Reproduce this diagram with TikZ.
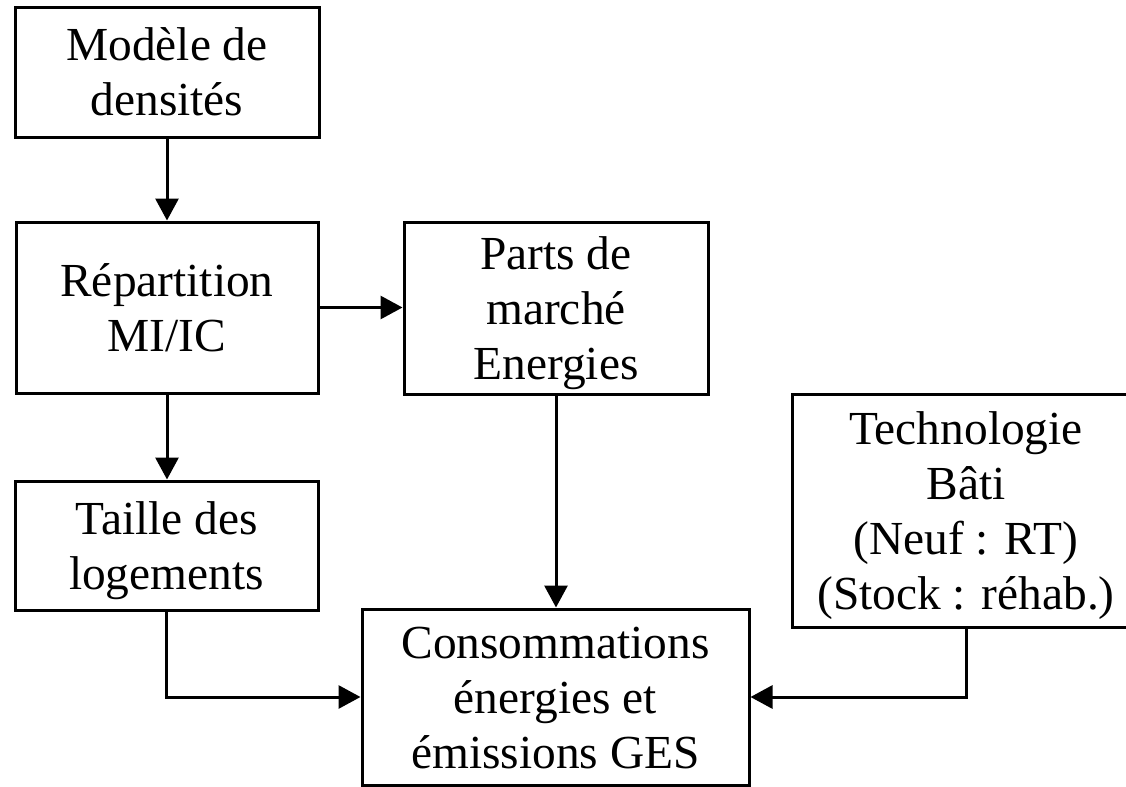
\documentclass[tikz,border=0pt]{standalone}
\usepackage{fontspec}
\setmainfont{Liberation Serif}
\usetikzlibrary{arrows.meta}
\newcommand\lnstrut{\rule[-5.5pt]{0pt}{27pt}}
\tikzset{
  box/.style={draw=black, line width=1.5pt, rectangle, inner sep=0pt, align=center,
    font=\fontsize{23.7}{27.5}\selectfont},
  conn/.style={line width=1.5pt, -{Triangle[length=11pt,width=11.5pt]}}
}
\begin{document}
\begin{tikzpicture}[x=0.5pt,y=-0.5pt]
\useasboundingbox (0,0) rectangle (1126,787);
\clip (0,0) rectangle (1126,787);
\node[box, minimum width=152pt, minimum height=65pt] (b1) at (167,72)
  {\lnstrut Modèle de\\\lnstrut densités};
\node[box, minimum width=151pt, minimum height=85.5pt] (b2) at (167,307.5)
  {\lnstrut Répartition\\\lnstrut MI/IC};
\node[box, minimum width=151.5pt, minimum height=64.5pt] (b3) at (166.5,545.5)
  {\lnstrut Taille des\\\lnstrut logements};
\node[box, minimum width=152pt, minimum height=86pt] (b4) at (556,308)
  {\lnstrut Parts de\\\lnstrut marché\\\lnstrut Energies};
\node[box, minimum width=174pt, minimum height=116.5pt] (b5) at (966,510.5)
  {\lnstrut Technologie\\\lnstrut Bâti\\\lnstrut (Neuf : RT)\\\lnstrut (Stock : réhab.)};
\node[box, minimum width=193.5pt, minimum height=88pt] (b6) at (555.5,697)
  {\lnstrut Consommations\\\lnstrut énergies et\\\lnstrut émissions GES};
\draw[conn] (b1.south) -- (b1.south |- b2.north);
\draw[conn] (b2.east) -- (b2.east -| b4.west);
\draw[conn] (b2.south) -- (b2.south |- b3.north);
\draw[conn] (b4.south) -- (b4.south |- b6.north);
\draw[conn] (b3.south) |- (b6.west);
\draw[conn] (b5.south) |- (b6.east);
\end{tikzpicture}
\end{document}
